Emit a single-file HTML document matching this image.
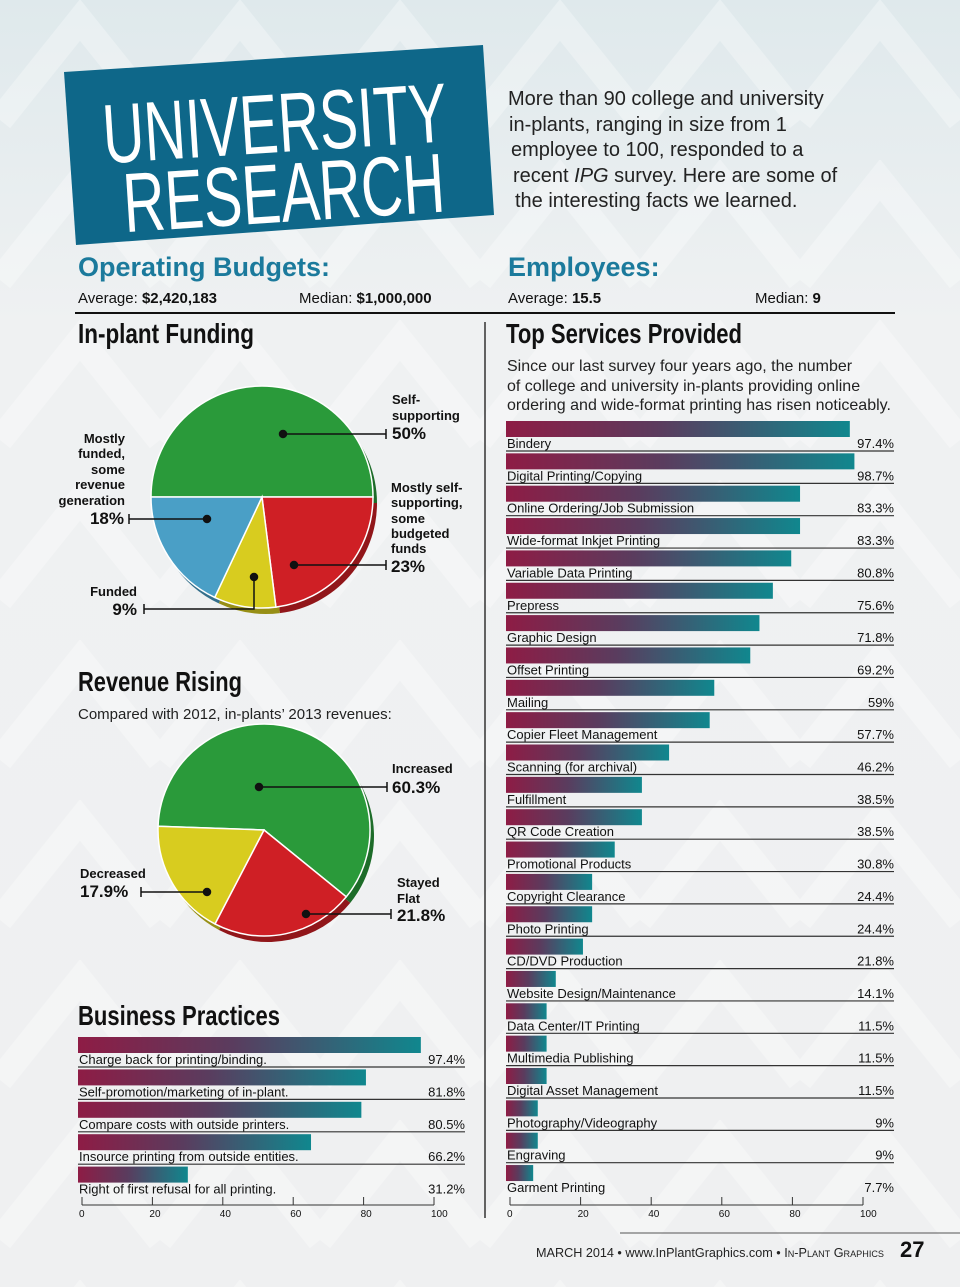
<!DOCTYPE html>
<html><head><meta charset="utf-8"><style>
html,body{margin:0;padding:0;background:#eef0f1}
svg{display:block;font-family:"Liberation Sans",sans-serif}
</style></head><body>
<svg id="pg" width="960" height="1287" viewBox="0 0 960 1287">
<defs>
<linearGradient id="bg" x1="0" y1="0" x2="0" y2="1"><stop offset="0" stop-color="#dfe9ec"/><stop offset="0.25" stop-color="#eff1f2"/><stop offset="1" stop-color="#eff0f1"/></linearGradient>
<linearGradient id="bar" x1="0" y1="0" x2="1" y2="0"><stop offset="0" stop-color="#8e1c45"/><stop offset="0.45" stop-color="#5a3c5e"/><stop offset="1" stop-color="#10878e"/></linearGradient>
<pattern id="chev" width="160" height="160" patternUnits="userSpaceOnUse"><path d="M0 120 L80 20 L160 120" fill="none" stroke="#ffffff" stroke-width="26" opacity="0.3"/></pattern>
</defs>
<rect width="960" height="1287" fill="url(#bg)"/>
<rect width="960" height="1287" fill="url(#chev)"/>

<g>
<polygon points="64,72 483,45 494,215 76,245" fill="#0e6789"/>
<g transform="rotate(-3.7 280 150)" fill="#fff">
<text x="104" y="152" font-size="84" textLength="345" lengthAdjust="spacingAndGlyphs">UNIVERSITY</text>
<text x="120" y="222" font-size="84" textLength="322" lengthAdjust="spacingAndGlyphs">RESEARCH</text>
</g></g>
<g font-size="20" fill="#222">
<text x="508" y="105">More than 90 college and university</text>
<text x="509" y="131">in-plants, ranging in size from 1</text>
<text x="511" y="156">employee to 100, responded to a</text>
<text x="513" y="182">recent <tspan font-style="italic">IPG</tspan> survey. Here are some of</text>
<text x="515" y="207">the interesting facts we learned.</text>
</g>

<g>
<text x="78" y="276" font-size="27" font-weight="bold" fill="#1b7a9c">Operating Budgets:</text>
<text x="78" y="303" font-size="15" fill="#111">Average: <tspan font-weight="bold">$2,420,183</tspan></text>
<text x="299" y="303" font-size="15" fill="#111">Median: <tspan font-weight="bold">$1,000,000</tspan></text>
</g>
<g>
<text x="508" y="276" font-size="27" font-weight="bold" fill="#1b7a9c">Employees:</text>
<text x="508" y="303" font-size="15" fill="#111">Average: <tspan font-weight="bold">15.5</tspan></text>
<text x="755" y="303" font-size="15" fill="#111">Median: <tspan font-weight="bold">9</tspan></text>
</g>
<line x1="75" y1="313" x2="895" y2="313" stroke="#111" stroke-width="2"/>
<line x1="485" y1="322" x2="485" y2="1218" stroke="#333" stroke-width="1.5"/>

<text x="78" y="343" font-size="28" font-weight="bold" textLength="176" lengthAdjust="spacingAndGlyphs" fill="#111">In-plant Funding</text>
<text x="506" y="343" font-size="28" font-weight="bold" textLength="236" lengthAdjust="spacingAndGlyphs" fill="#111">Top Services Provided</text>
<g font-size="16" fill="#222">
<text x="507" y="371">Since our last survey four years ago, the number</text>
<text x="507" y="391">of college and university in-plants providing online</text>
<text x="507" y="410">ordering and wide-format printing has risen noticeably.</text>
</g>

<g id="pie1"></g>
<g font-size="13" font-weight="bold" fill="#111">
<text x="392" y="404">Self-</text><text x="392" y="420">supporting</text>
<text x="392" y="439" font-size="17">50%</text>
<text x="125" y="443" text-anchor="end">Mostly</text><text x="125" y="458" text-anchor="end">funded,</text>
<text x="125" y="474" text-anchor="end">some</text><text x="125" y="489" text-anchor="end">revenue</text>
<text x="125" y="505" text-anchor="end">generation</text>
<text x="124" y="524" font-size="17" text-anchor="end">18%</text>
<text x="391" y="492">Mostly self-</text><text x="391" y="507">supporting,</text>
<text x="391" y="523">some</text><text x="391" y="538">budgeted</text><text x="391" y="553">funds</text>
<text x="391" y="572" font-size="17">23%</text>
<text x="137" y="596" text-anchor="end">Funded</text>
<text x="137" y="615" font-size="17" text-anchor="end">9%</text>
</g>
<g stroke="#111" stroke-width="1.5" fill="#111">
<line x1="283" y1="434" x2="386" y2="434"/><line x1="386" y1="429" x2="386" y2="439"/><circle cx="283" cy="434" r="3.5"/>
<line x1="129" y1="519" x2="207" y2="519"/><line x1="129" y1="514" x2="129" y2="524"/><circle cx="207" cy="519" r="3.5"/>
<line x1="294" y1="565" x2="386" y2="565"/><line x1="386" y1="560" x2="386" y2="570"/><circle cx="294" cy="565" r="3.5"/>
<polyline points="254,577 254,609 144,609" fill="none"/><line x1="144" y1="604" x2="144" y2="614"/><circle cx="254" cy="577" r="3.5"/>
</g>

<text x="78" y="691" font-size="28" font-weight="bold" textLength="164" lengthAdjust="spacingAndGlyphs" fill="#111">Revenue Rising</text>
<text x="78" y="719" font-size="15" fill="#222">Compared with 2012, in-plants’ 2013 revenues:</text>
<g id="pie2"></g>
<g font-size="13" font-weight="bold" fill="#111">
<text x="392" y="773">Increased</text>
<text x="392" y="793" font-size="17">60.3%</text>
<text x="80" y="878">Decreased</text>
<text x="80" y="897" font-size="17">17.9%</text>
<text x="397" y="887">Stayed</text><text x="397" y="903">Flat</text>
<text x="397" y="921" font-size="17">21.8%</text>
</g>
<g stroke="#111" stroke-width="1.5" fill="#111">
<line x1="259" y1="787" x2="387" y2="787"/><line x1="387" y1="782" x2="387" y2="792"/><circle cx="259" cy="787" r="3.5"/>
<line x1="141" y1="892" x2="207" y2="892"/><line x1="141" y1="887" x2="141" y2="897"/><circle cx="207" cy="892" r="3.5"/>
<line x1="306" y1="914" x2="391" y2="914"/><line x1="391" y1="909" x2="391" y2="919"/><circle cx="306" cy="914" r="3.5"/>
</g>

<text x="78" y="1025" font-size="28" font-weight="bold" textLength="202" lengthAdjust="spacingAndGlyphs" fill="#111">Business Practices</text>
<g id="bp"></g>
<g id="ts"></g>

<g>
<line x1="620" y1="1233" x2="960" y2="1233" stroke="#555" stroke-width="1"/>
<text x="536" y="1257" font-size="12.5" fill="#222" textLength="348" lengthAdjust="spacingAndGlyphs">MARCH 2014  •  www.InPlantGraphics.com  •  I<tspan font-size="9">N</tspan>-P<tspan font-size="9">LANT</tspan> G<tspan font-size="9">RAPHICS</tspan></text>
<text x="900" y="1257" font-size="22" font-weight="bold" fill="#111">27</text>
</g>
</svg>
<script>
const fundingLabels=["Self-supporting","Mostly self-supporting","Funded","Mostly funded"];
const fundingValues=[50,23,9,18];
const fundingColors=["#2a9a3a","#cf1f25","#d8cc1f","#4a9fc6"];
const revenueLabels=["Increased","Stayed flat","Decreased"];
const revenueValues=[60.3,21.8,17.9];
const revenueColors=["#2a9a3a","#cf1f25","#d8cc1f"];

const practiceCats=["Charge back for printing/binding.","Self-promotion/marketing of in-plant.","Compare costs with outside printers.","Insource printing from outside entities.","Right of first refusal for all printing."];
const practiceVals=[97.4,81.8,80.5,66.2,31.2];
const practiceText=["97.4%","81.8%","80.5%","66.2%","31.2%"];

const serviceCats=["Bindery","Digital Printing/Copying","Online Ordering/Job Submission","Wide-format Inkjet Printing","Variable Data Printing","Prepress","Graphic Design","Offset Printing","Mailing","Copier Fleet Management","Scanning (for archival)","Fulfillment","QR Code Creation","Promotional Products","Copyright Clearance","Photo Printing","CD/DVD Production","Website Design/Maintenance","Data Center/IT Printing","Multimedia Publishing","Digital Asset Management","Photography/Videography","Engraving","Garment Printing"];
const serviceVals=[97.4,98.7,83.3,83.3,80.8,75.6,71.8,69.2,59,57.7,46.2,38.5,38.5,30.8,24.4,24.4,21.8,14.1,11.5,11.5,11.5,9,9,7.7];
const serviceText=["97.4%","98.7%","83.3%","83.3%","80.8%","75.6%","71.8%","69.2%","59%","57.7%","46.2%","38.5%","38.5%","30.8%","24.4%","24.4%","21.8%","14.1%","11.5%","11.5%","11.5%","9%","9%","7.7%"];
const tickVals=[0,20,40,60,80,100];

const NS="http://www.w3.org/2000/svg";
function mk(p,t,a){const e=document.createElementNS(NS,t);for(const k in a)e.setAttribute(k,a[k]);p.appendChild(e);return e;}
function shade(c){const n=parseInt(c.slice(1),16);const f=v=>Math.round(v*0.7);return "rgb("+f(n>>16)+","+f((n>>8)&255)+","+f(n&255)+")";}

function pie(g,cx,cy,r,vals,cols,start){
  const tot=vals.reduce((a,b)=>a+b,0);
  let a=start;
  vals.forEach((v,i)=>{
    const sw=v/tot*360;const a0=a*Math.PI/180,a1=(a+sw)*Math.PI/180;
    const e=mk(g,'path',{d:`M${cx+4},${cy+6} L${cx+4+r*Math.cos(a0)},${cy+6+r*Math.sin(a0)} A${r},${r} 0 ${sw>180?1:0} 1 ${cx+4+r*Math.cos(a1)},${cy+6+r*Math.sin(a1)} Z`,fill:shade(cols[i])});
    
    
    a+=sw;
  });
  a=start;
  vals.forEach((v,i)=>{
    const sw=v/tot*360;const a0=a*Math.PI/180,a1=(a+sw)*Math.PI/180;
    const e=mk(g,'path',{d:`M${cx},${cy} L${cx+r*Math.cos(a0)},${cy+r*Math.sin(a0)} A${r},${r} 0 ${sw>180?1:0} 1 ${cx+r*Math.cos(a1)},${cy+r*Math.sin(a1)} Z`,fill:cols[i],stroke:"#fff","stroke-width":1.5});
    
    
    a+=sw;
  });
}
pie(document.getElementById('pie1'),262,497,111,fundingValues,fundingColors,180);
pie(document.getElementById('pie2'),264,830,106,revenueValues,revenueColors,182);

function barChart(g,x0,scale,top,pitch,cats,vals,txt,right,axisY){
  const X=v=>x0+v*scale;
  cats.forEach((c,i)=>{
    const y=top+i*pitch;
    const b=mk(g,'rect',{x:x0,y:y,width:X(vals[i])-x0,height:16,fill:"url(#bar)"});
    
    
    const t=mk(g,'text',{x:x0+1,y:y+27,"font-size":13,fill:"#111"});t.textContent=c;
    
    
    const p=mk(g,'text',{x:right,y:y+27,"font-size":13,fill:"#111","text-anchor":"end"});p.textContent=txt[i];
    
    
    if(i<cats.length-1){const l=mk(g,'line',{x1:x0,x2:right,y1:y+30,y2:y+30,stroke:"#333","stroke-width":1.2});
    
    }
  });
  const ax=mk(g,'g',{});
  
  
  const a0=X(0)+4,a1=X(100)+4;
  mk(ax,'line',{x1:a0,x2:a1,y1:axisY,y2:axisY,stroke:"#333"});
  tickVals.forEach(v=>{const x=a0+(a1-a0)*v/100;
    mk(ax,'line',{x1:x,x2:x,y1:axisY-8,y2:axisY,stroke:"#333"});
    const t=mk(ax,'text',{x:x-3,y:axisY+12,"font-size":10,fill:"#111"});t.textContent=v;
    
    });
}
barChart(document.getElementById('bp'),78,3.52,1037,32.4,practiceCats,practiceVals,practiceText,465,1205);
barChart(document.getElementById('ts'),506,3.53,421,32.35,serviceCats,serviceVals,serviceText,894,1205);
</script>
</body></html>
